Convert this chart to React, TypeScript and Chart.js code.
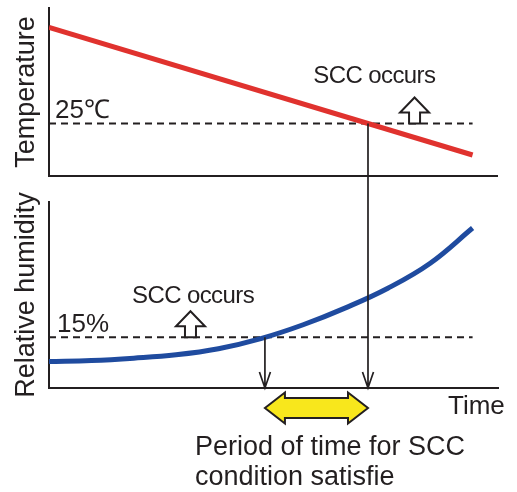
import React, { useEffect, useRef } from "react";
import { Chart, registerables } from "chart.js";

Chart.register(...registerables);

// ---- data ----
const tempTimes = [0, 10];
const temperature = [43.3, 19];
const humidityTimes = [0, 1, 2, 3, 4, 5, 6, 7, 8, 9, 10];
const humidity = [7.8, 8.1, 8.8, 9.8, 11.6, 14.6, 18.7, 23.7, 29.5, 36.9, 47.3];
const thresholdTimes = [0, 10];
const tempThreshold = 25;
const humidityThreshold = 15;

const axisTitles = ["Temperature", "Relative humidity"];
const timeLabel = "Time";
const occursLabel = "SCC occurs";
const thresholdLabels = ["25℃", "15%"];
const captionLines = ["Period of time for SCC", "condition satisfie"];

const FONT = '"Liberation Sans", Arial, Helvetica, sans-serif';
const INK = "#231f20";

function crossing(xs: number[], ys: number[], level: number): number {
  for (let i = 0; i < xs.length - 1; i++) {
    const a = ys[i] - level;
    const b = ys[i + 1] - level;
    if (a === 0) return xs[i];
    if ((a < 0 && b >= 0) || (a > 0 && b <= 0)) {
      return xs[i] + ((xs[i + 1] - xs[i]) * a) / (a - b);
    }
  }
  return xs[xs.length - 1];
}

function drawUpArrow(ctx: CanvasRenderingContext2D, cx: number, baseY: number) {
  ctx.beginPath();
  ctx.moveTo(cx - 5.5, baseY);
  ctx.lineTo(cx - 5.5, baseY - 11);
  ctx.lineTo(cx - 14.5, baseY - 11);
  ctx.lineTo(cx, baseY - 26);
  ctx.lineTo(cx + 14.5, baseY - 11);
  ctx.lineTo(cx + 5.5, baseY - 11);
  ctx.lineTo(cx + 5.5, baseY);
  ctx.closePath();
  ctx.fillStyle = "#ffffff";
  ctx.fill();
  ctx.lineWidth = 2;
  ctx.strokeStyle = INK;
  ctx.stroke();
}

function drawDownArrow(ctx: CanvasRenderingContext2D, x: number, y0: number, y1: number) {
  ctx.beginPath();
  ctx.moveTo(x, y0);
  ctx.lineTo(x, y1);
  ctx.moveTo(x - 5.5, y1 - 16);
  ctx.lineTo(x, y1);
  ctx.lineTo(x + 5.5, y1 - 16);
  ctx.lineWidth = 1.7;
  ctx.strokeStyle = INK;
  ctx.stroke();
}

function drawDoubleArrow(ctx: CanvasRenderingContext2D, x0: number, x1: number, cy: number) {
  const hh = 15.5;
  const sh = 10;
  const hl = 20;
  ctx.beginPath();
  ctx.moveTo(x0, cy);
  ctx.lineTo(x0 + hl, cy - hh);
  ctx.lineTo(x0 + hl, cy - sh);
  ctx.lineTo(x1 - hl, cy - sh);
  ctx.lineTo(x1 - hl, cy - hh);
  ctx.lineTo(x1, cy);
  ctx.lineTo(x1 - hl, cy + hh);
  ctx.lineTo(x1 - hl, cy + sh);
  ctx.lineTo(x0 + hl, cy + sh);
  ctx.lineTo(x0 + hl, cy + hh);
  ctx.closePath();
  ctx.fillStyle = "#f8e71c";
  ctx.fill();
  ctx.lineWidth = 2;
  ctx.lineJoin = "miter";
  ctx.strokeStyle = INK;
  ctx.stroke();
}

const annotationPlugin = {
  id: "sccAnnotations",
  afterDatasetsDraw(chart: any) {
    const ctx: CanvasRenderingContext2D = chart.ctx;
    const xs = chart.scales.x;
    const yT = chart.scales.yT;
    const yH = chart.scales.yH;
    const area = chart.chartArea;

    const tT = crossing(tempTimes, temperature, tempThreshold);
    const tH = crossing(humidityTimes, humidity, humidityThreshold);
    const xR = xs.getPixelForValue(tT);
    const xL = xs.getPixelForValue(tH);
    const yTop = yT.getPixelForValue(tempThreshold);
    const yDash = yH.getPixelForValue(humidityThreshold);
    const yBase = area.bottom;

    ctx.save();
    drawDownArrow(ctx, xR, yTop, yBase);
    drawDownArrow(ctx, xL, yDash, yBase);
    drawDoubleArrow(ctx, xL, xR, yBase + 20);

    drawUpArrow(ctx, xs.getPixelForValue(8.63), yTop);
    drawUpArrow(ctx, xs.getPixelForValue(3.34), yDash);

    ctx.fillStyle = INK;
    ctx.textAlign = "left";
    ctx.textBaseline = "alphabetic";

    ctx.font = `26px ${FONT}`;
    ctx.fillText(thresholdLabels[0], area.left + 6, yTop - 6);
    ctx.fillText(thresholdLabels[1], area.left + 8, yDash - 5);

    ctx.font = `24px ${FONT}`;
    (ctx as any).letterSpacing = "-0.6px";
    ctx.fillText(occursLabel, xs.getPixelForValue(6.24), yTop - 41);
    ctx.fillText(occursLabel, xs.getPixelForValue(1.96), yDash - 34);
    (ctx as any).letterSpacing = "0px";

    ctx.font = `26px ${FONT}`;
    ctx.fillText(timeLabel, area.right - 50, yBase + 26);

    ctx.font = `27px ${FONT}`;
    ctx.fillText(captionLines[0], 195, yBase + 67);
    ctx.fillText(captionLines[1], 195, yBase + 97);
    ctx.restore();
  },
};

export default function App() {
  const canvasRef = useRef<HTMLCanvasElement | null>(null);

  useEffect(() => {
    if (!canvasRef.current) return;
    const chart = new Chart(canvasRef.current, {
      type: "line",
      data: {
        datasets: [
          {
            label: "Temperature",
            data: tempTimes.map((t, i) => ({ x: t, y: temperature[i] })),
            yAxisID: "yT",
            borderColor: "#e0322e",
            borderWidth: 5,
            pointRadius: 0,
            order: 1,
          },
          {
            label: "Relative humidity",
            data: humidityTimes.map((t, i) => ({ x: t, y: humidity[i] })),
            yAxisID: "yH",
            borderColor: "#1f4b9f",
            borderWidth: 5,
            pointRadius: 0,
            tension: 0.4,
            order: 1,
          },
          {
            label: "25℃",
            data: thresholdTimes.map((t) => ({ x: t, y: tempThreshold })),
            yAxisID: "yT",
            borderColor: INK,
            borderWidth: 2,
            borderDash: [7, 5],
            pointRadius: 0,
            order: 2,
          },
          {
            label: "15%",
            data: thresholdTimes.map((t) => ({ x: t, y: humidityThreshold })),
            yAxisID: "yH",
            borderColor: INK,
            borderWidth: 2,
            borderDash: [7, 5],
            pointRadius: 0,
            order: 2,
          },
        ],
      },
      options: {
        animation: false,
        responsive: true,
        maintainAspectRatio: false,
        layout: { padding: { left: 8, top: 8, right: 19, bottom: 104 } },
        plugins: { legend: { display: false }, tooltip: { enabled: false } },
        events: [],
        scales: {
          x: {
            type: "linear",
            min: 0,
            max: 10.6,
            ticks: { display: false },
            grid: { display: false, drawTicks: false },
            border: { display: true, color: INK, width: 2 },
            afterFit: (s: any) => {
              s.height = 0;
            },
          },
          yT: {
            type: "linear",
            position: "left",
            stack: "panels",
            stackWeight: 168,
            weight: 3,
            min: 15,
            max: 47,
            afterBuildTicks: (s: any) => {
              s.ticks = [{ value: s.min }];
            },
            ticks: { display: false },
            grid: { display: true, drawTicks: false, color: INK, lineWidth: 2 },
            border: { display: true, color: INK, width: 2 },
            title: {
              display: true,
              text: axisTitles[0],
              color: INK,
              font: { family: FONT, size: 27 },
              padding: { top: 2, bottom: 0 },
            },
            afterFit: (s: any) => {
              s.width = 41;
            },
          },
          yGap: {
            type: "linear",
            position: "left",
            stack: "panels",
            stackWeight: 26,
            weight: 2,
            ticks: { display: false },
            grid: { display: false, drawTicks: false },
            border: { display: false },
            afterFit: (s: any) => {
              s.width = 41;
            },
          },
          yH: {
            type: "linear",
            position: "left",
            stack: "panels",
            stackWeight: 186,
            weight: 1,
            min: 0,
            max: 55,
            ticks: { display: false },
            grid: { display: false, drawTicks: false },
            border: { display: true, color: INK, width: 2 },
            title: {
              display: true,
              text: axisTitles[1],
              color: INK,
              font: { family: FONT, size: 27 },
              padding: { top: 2, bottom: 0 },
            },
            afterFit: (s: any) => {
              s.width = 41;
            },
          },
        },
      } as any,
      plugins: [annotationPlugin],
    });
    return () => chart.destroy();
  }, []);

  return (
    <div style={{ position: "absolute", left: 0, top: 0, width: 517, height: 492, background: "#fff" }}>
      <canvas ref={canvasRef} />
    </div>
  );
}
